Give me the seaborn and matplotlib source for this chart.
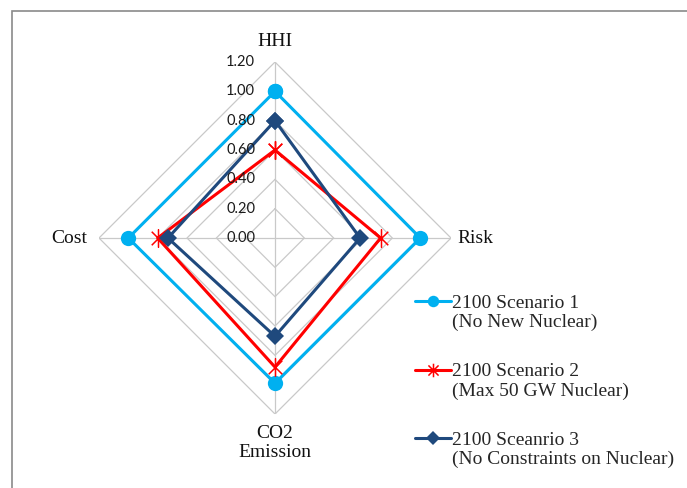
import numpy as np
import pandas as pd
import matplotlib
matplotlib.use("Agg")
import matplotlib.pyplot as plt
from matplotlib.patches import Rectangle
from matplotlib.path import Path
from matplotlib.transforms import offset_copy
import seaborn as sns

# data
axes_labels = ["HHI", "Risk", "CO2\nEmission", "Cost"]
scenario_names = ["2100 Scenario 1", "2100 Scenario 2", "2100 Sceanrio 3"]
scenario_notes = ["(No New Nuclear)", "(Max 50 GW Nuclear)", "(No Constraints on Nuclear)"]
scenario1 = [1.00, 0.99, 0.99, 1.00]
scenario2 = [0.60, 0.72, 0.88, 0.80]
scenario3 = [0.80, 0.58, 0.67, 0.73]
r_ticks = [0.0, 0.2, 0.4, 0.6, 0.8, 1.0, 1.2]

# Excel-style star: vertical bar plus an x
star = Path([(0, -1), (0, 1), (-0.75, -0.75), (0.75, 0.75), (-0.75, 0.75), (0.75, -0.75)],
            [Path.MOVETO, Path.LINETO, Path.MOVETO, Path.LINETO, Path.MOVETO, Path.LINETO])

colors = ["#00B0F0", "#FF0000", "#1F497D"]
markers = ["o", star, "D"]
msizes = [11, 13, 9]

sns.set_theme(style="white")
plt.rcParams["font.family"] = ["Liberation Serif", "DejaVu Serif"]

fig = plt.figure(figsize=(6.87, 4.88), dpi=100)
ax = fig.add_axes([0.1441, 0.1516, 0.5124, 0.7213], projection="polar")
ax.set_theta_offset(np.pi / 2)
ax.set_theta_direction(-1)
ax.set_ylim(0, 1.2)
ax.grid(False)
ax.spines["polar"].set_visible(False)
ax.set_xticks([])
ax.set_yticks([])
ax.set_facecolor("white")

angles = np.arange(len(axes_labels)) * 2 * np.pi / len(axes_labels)
closed = np.append(angles, 2 * np.pi)

# polygon grid and spokes
for r in r_ticks[1:]:
    ax.plot(closed, [r] * len(closed), color="#c9c9c9", lw=0.9, zorder=1)
for a in angles:
    ax.plot([a, a], [0, 1.2], color="#c9c9c9", lw=0.9, zorder=1)

# radial tick labels
tick_tr = offset_copy(ax.transData, fig=fig, x=-20, y=0, units="dots")
for r in r_ticks:
    ax.text(0, r, f"{r:.2f}", transform=tick_tr, ha="right", va="center",
            fontsize=10.5, family=["Lato", "DejaVu Sans"], color="#1a1a1a", zorder=5)

# category labels
offsets = [(0, 12, "center", "bottom"), (6, 0, "left", "center"),
           (0, -11, "center", "top"), (-12, 0, "right", "center")]
for a, lab, (dx, dy, ha, va) in zip(angles, axes_labels, offsets):
    tr = offset_copy(ax.transData, fig=fig, x=dx, y=dy, units="dots")
    ax.text(a, 1.2, lab, transform=tr, ha=ha, va=va, fontsize=14,
            linespacing=1.12, color="#111111")

handles = []
for vals, name, c, m, ms in zip([scenario1, scenario2, scenario3],
                                scenario_names, colors, markers, msizes):
    df = pd.DataFrame({"theta": closed, "r": vals + vals[:1]})
    sns.lineplot(data=df, x="theta", y="r", sort=False, errorbar=None,
                 color=c, lw=2.2, marker=m, markersize=ms, markeredgecolor=c,
                 markeredgewidth=1.1 if m is star else 0,
                 ax=ax, zorder=3, legend=False)
    handles.append(ax.lines[-1])
ax.set_xlabel("")
ax.set_ylabel("")
ax.set_ylim(0, 1.2)

labels = [f"{n}\n{t}" for n, t in zip(scenario_names, scenario_notes)]
leg = fig.legend(handles, labels, loc="upper left",
                 bbox_to_anchor=(405 / 687, 1 - 285 / 488), frameon=False,
                 fontsize=14, handlelength=1.85, handletextpad=0.08,
                 labelspacing=1.66, borderpad=0, markerscale=0.75)
for t in leg.get_texts():
    t.set_linespacing(1.15)
# put each handle next to the first line of its label
for h in leg.legend_handles:
    h.set_ydata(np.asarray(h.get_ydata()) + 0.58 * 14)

fig.add_artist(Rectangle((12 / 687, -0.02), 1.0, 1 - 11 / 488 + 0.02,
                         transform=fig.transFigure, fill=False,
                         ec="#8a8a8a", lw=1.2))

fig.savefig("out.png", dpi=100, facecolor="white")
